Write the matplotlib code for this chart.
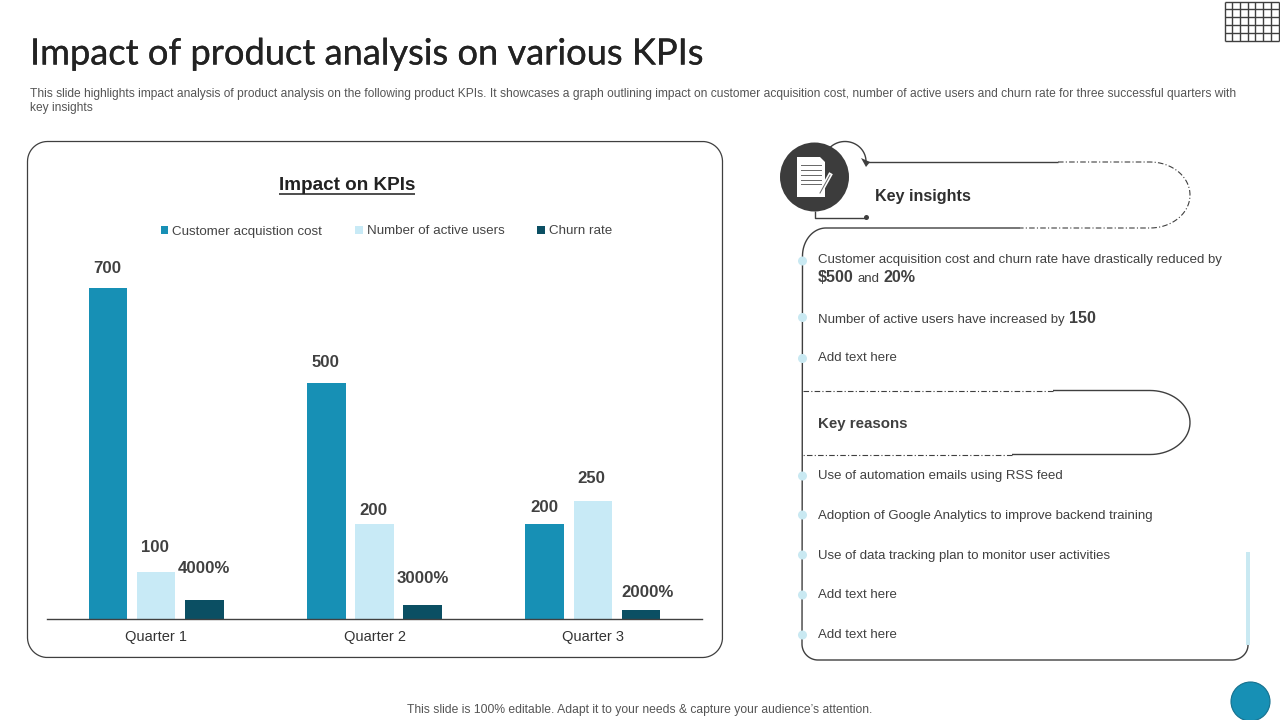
import numpy as np
import matplotlib
matplotlib.use('Agg')
import matplotlib.pyplot as plt
import matplotlib.patheffects as pe
from matplotlib.patches import Circle, Polygon, Rectangle

plt.rcParams['font.family'] = ['Liberation Sans', 'DejaVu Sans']

quarters = ['Quarter 1', 'Quarter 2', 'Quarter 3']
series = {
    'Customer acquistion cost': [700, 500, 200],
    'Number of active users': [100, 200, 250],
    'Churn rate': [40, 30, 20],
}
colors = ['#1790b5', '#c8eaf6', '#0b4f63']
labels = [['700', '500', '200'], ['100', '200', '250'], ['4000%', '3000%', '2000%']]
# gap above each bar to the centre of its label, in pixels
label_gaps = [[19, 20, 17], [24, 14, 22], [32, 26, 17]]
label_shift = [[-1, -1, 0], [-1, -1, -1], [0, 0, 7]]

LINE = '#3f3f3f'
TEXT = '#404040'
DOT = '#c9e9f2'

fig = plt.figure(figsize=(12.8, 7.2), dpi=100, facecolor='white')

# Slide layer, one unit is one pixel
bg = fig.add_axes([0, 0, 1, 1])
bg.set_xlim(0, 1280)
bg.set_ylim(720, 0)
bg.axis('off')


def arc(cx, cy, rx, ry, a0, a1):
    t = np.radians(np.linspace(a0, a1, 40))
    return cx + rx * np.cos(t), cy + ry * np.sin(t)


def line(xs, ys, ls='-', lw=1.0):
    bg.plot(xs, ys, color=LINE, lw=lw, ls=ls, solid_capstyle='butt')


dashdot = (0, (5, 2, 1, 2))

# Header
title = bg.text(30, 54, 'Impact of product analysis on various KPIs', family='Lato',
                fontsize=26.1, color='#222222', va='center', ha='left')
title.set_path_effects([pe.withStroke(linewidth=0.2, foreground='#222222')])
bg.text(30, 94, 'This slide highlights impact analysis of product analysis on the following product KPIs. '
        'It showcases a graph outlining impact on customer acquisition cost, number of active users and churn rate '
        'for three successful quarters with', fontsize=8.63, color='#555555', va='center')
bg.text(30, 108, 'key insights', fontsize=8.63, color='#555555', va='center')
bg.text(639.5, 710, 'This slide is 100% editable. Adapt it to your needs & capture your audience\u2019s attention.',
        fontsize=8.7, color='#555555', va='center', ha='center')

# Grid in the top right corner
for x in np.linspace(1224.5, 1278.5, 8):
    line([x, x], [1.5, 40.5], lw=1.0)
for y in np.linspace(1.5, 40.5, 6):
    line([1224.5, 1278.5], [y, y], lw=1.0)

# Chart frame
r = 20
x0, x1, y0, y1 = 27.5, 722.5, 141.5, 657.5
corners = [arc(x0 + r, y0 + r, r, r, 180, 270), arc(x1 - r, y0 + r, r, r, 270, 360),
           arc(x1 - r, y1 - r, r, r, 0, 90), arc(x0 + r, y1 - r, r, r, 90, 180)]
line(np.r_[corners[0][0], corners[1][0], corners[2][0], corners[3][0], corners[0][0][0]],
     np.r_[corners[0][1], corners[1][1], corners[2][1], corners[3][1], corners[0][1][0]], lw=0.9)
bg.text(347, 185, 'Impact on KPIs', fontsize=13.6, fontweight='bold', color='#222222', ha='center', va='center')
line([279, 415], [193.5, 193.5], lw=1.3)

# Key insights outline
line([866, 1058], [162, 162])
xa, ya = arc(1150, 195, 40, 33, -90, 90)
line(np.r_[1058, xa, 1020], np.r_[162, ya, 228], ls=dashdot, lw=0.8)
xa, ya = arc(826, 256, 23.5, 28, -90, -180)
xb, yb = arc(818, 644, 16, 16, 180, 90)
xc, yc = arc(1232, 645, 16, 15, 90, 0)
line(np.r_[1020, xa, xb, xc], np.r_[228, ya, yb, yc])

# Key reasons outline
line([803, 1053], [390.5, 390.5], ls=dashdot, lw=0.8)
xa, ya = arc(1150, 422.5, 40, 32, -90, 90)
line(np.r_[1053, xa, 1012], np.r_[390.5, ya, 454.5])
line([1012, 803], [454.5, 454.5], ls=dashdot, lw=0.8)

# Light bar on the right
bg.add_patch(Rectangle((1246, 552), 4, 93, fc=DOT, ec='none'))

# Document badge
xa, ya = arc(845, 161.5, 21, 20, -145, 0)
line(xa, ya)
bg.add_patch(Polygon([[861, 158], [870, 162], [866, 167]], fc=LINE, ec='none'))
line([814.5, 814.5, 866], [211, 217.5, 217.5])
bg.add_patch(Circle((866.5, 217.5), 2.5, fc=LINE, ec='none'))
bg.add_patch(Circle((814.5, 177), 34.5, fc='#3c3c3c', ec='none', zorder=3))
bg.add_patch(Polygon([[797, 157], [820, 157], [825, 162], [825, 197], [797, 197]], fc='white', ec='none', zorder=4))
for y in [165, 170, 175, 180, 184]:
    bg.plot([801, 821], [y, y], color='#666666', lw=0.7, zorder=5)
bg.plot([820, 830], [193, 175], color='white', lw=3.0, zorder=5)
bg.plot([820, 830], [193, 175], color='#666666', lw=0.7, zorder=6)

# Bullets
for y in [261, 317.5, 358.5, 476, 515, 555, 595, 635]:
    bg.add_patch(Circle((802.5, y), 4.5, fc=DOT, ec='none', zorder=3))

bg.text(875, 196.5, 'Key insights', fontsize=11.6, fontweight='bold', color='#2f2f2f', va='center')
bg.text(818, 424, 'Key reasons', fontsize=10.8, fontweight='bold', color=TEXT, va='center')

items = [
    (260, 'Customer acquisition cost and churn rate have drastically reduced by'),
    (320, 'Number of active users have increased by'),
    (358, 'Add text here'),
    (476, 'Use of automation emails using RSS feed'),
    (516, 'Adoption of Google Analytics to improve backend training'),
    (556, 'Use of data tracking plan to monitor user activities'),
    (595, 'Add text here'),
    (635, 'Add text here'),
]
for y, s in items:
    bg.text(818, y, s, fontsize=9.5, color=TEXT, va='center')
bg.text(818, 277.5, '$500', fontsize=11.6, fontweight='bold', color=TEXT, va='center')
bg.text(858, 279, 'and', fontsize=9.5, color=TEXT, va='center')
bg.text(883, 277.5, '20%', fontsize=11.6, fontweight='bold', color=TEXT, va='center')
bg.text(1069, 318.5, '150', fontsize=11.6, fontweight='bold', color=TEXT, va='center')

# Round button, runs off the slide
bg.add_patch(Circle((1250.5, 701.5), 19.5, fc='#1790b5', ec='#15708e', lw=0.8, clip_on=True))

# Bar chart
ax = fig.add_axes([47 / 1280, (720 - 619) / 720, 655 / 1280, 378.3 / 720])
ax.patch.set_alpha(0)
x = np.arange(len(quarters))
width = 0.177
step = 0.22
for i, (name, values) in enumerate(series.items()):
    offset = (i - 1) * step
    ax.bar(x + offset, values, width, color=colors[i], label=name)
    for j, v in enumerate(values):
        # 1 px = 0.72 pt at this dpi
        ax.annotate(labels[i][j], (x[j] + offset, v),
                    xytext=(label_shift[i][j] * 0.72, label_gaps[i][j] * 0.72),
                    textcoords='offset points', ha='center', va='center',
                    fontsize=12.1, fontweight='bold', color=TEXT)

ax.set_xlim(-0.5, 2.5)
ax.set_ylim(0, 800)
ax.set_xticks(x)
ax.set_xticklabels(quarters, fontsize=10.5, color='#333333')
ax.set_yticks([])
ax.tick_params(axis='x', length=0, pad=8)
for s in ['top', 'left', 'right']:
    ax.spines[s].set_visible(False)
ax.spines['bottom'].set_color('#404040')
ax.spines['bottom'].set_linewidth(1.0)

ax.legend(loc='center', bbox_to_anchor=(386.5 / 1280, (720 - 231.5) / 720), bbox_transform=fig.transFigure,
          ncol=3, frameon=False, fontsize=9.6, handlelength=0.55, handleheight=0.55,
          handletextpad=0.3, columnspacing=2.47, labelcolor='#444444', borderpad=0, borderaxespad=0)

fig.savefig('out.png', dpi=100)
